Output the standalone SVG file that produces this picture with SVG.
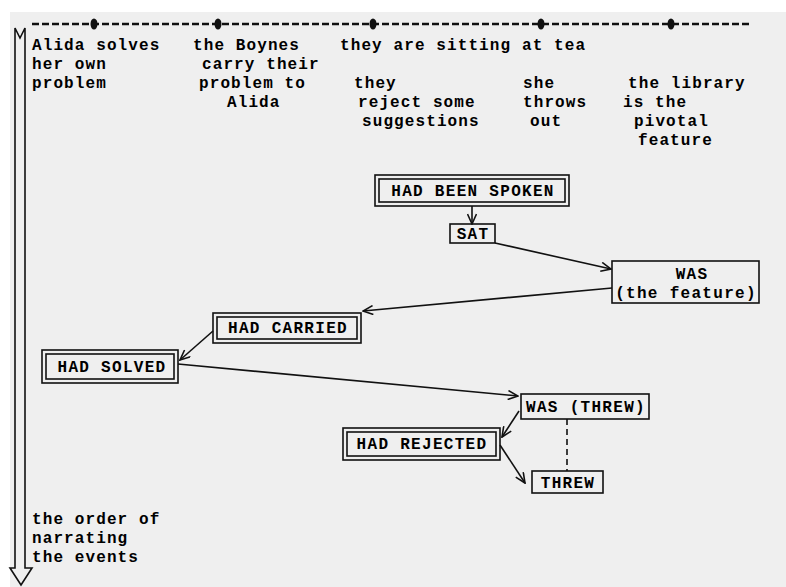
<svg xmlns="http://www.w3.org/2000/svg" width="786" height="587" viewBox="0 0 786 587">
<style>
  .t { font-family: "Liberation Mono", "DejaVu Sans Mono", monospace; font-weight: bold; font-size: 16px; letter-spacing: 1.1px; fill: #000; }
  .n { font-family: "Liberation Mono", "DejaVu Sans Mono", monospace; font-weight: bold; font-size: 16px; letter-spacing: 1.3px; fill: #000; text-anchor: middle; }
  .box { fill: none; stroke: #111; stroke-width: 1.6; }
  .ln { fill: none; stroke: #111; stroke-width: 1.6; }
</style>
<defs>
  <marker id="ah" viewBox="0 0 12 10" refX="11" refY="5" markerWidth="12" markerHeight="10" markerUnits="userSpaceOnUse" orient="auto">
    <path d="M1,0.5 L11,5 L1,9.5" fill="none" stroke="#111" stroke-width="1.6"/>
  </marker>
</defs>
<rect x="0" y="0" width="786" height="587" fill="#ffffff"/>
<rect x="10" y="12" width="776" height="575" fill="#efefef"/>

<g id="timeline">
  <line x1="32" y1="24" x2="751" y2="24" stroke="#111" stroke-width="2.4" stroke-dasharray="7,3"/>
  <ellipse cx="94" cy="24" rx="3.5" ry="5.5" fill="#111"/>
  <ellipse cx="218" cy="24" rx="3.5" ry="5.5" fill="#111"/>
  <ellipse cx="373" cy="24" rx="3.5" ry="5.5" fill="#111"/>
  <ellipse cx="541" cy="24" rx="3.5" ry="5.5" fill="#111"/>
  <ellipse cx="671" cy="24" rx="3.5" ry="5.5" fill="#111"/>
</g>

<g id="order-arrow">
  <path d="M15,568 L15,28 L20,38 L25,28 L25,568 L32,568 L21,585 L10,568 Z" fill="none" stroke="#111" stroke-width="1.6"/>
  <text class="t" x="32" y="524">the order of</text>
  <text class="t" x="32" y="543">narrating</text>
  <text class="t" x="32" y="562">the events</text>
</g>

<g id="events">
  <text class="t" x="32" y="50">Alida solves</text>
  <text class="t" x="32" y="69">her own</text>
  <text class="t" x="32" y="88">problem</text>

  <text class="t" x="193" y="50">the Boynes</text>
  <text class="t" x="202" y="69">carry their</text>
  <text class="t" x="199" y="88">problem to</text>
  <text class="t" x="227" y="107">Alida</text>

  <text class="t" x="340" y="50">they are sitting at tea</text>
  <text class="t" x="354" y="88">they</text>
  <text class="t" x="358" y="107">reject some</text>
  <text class="t" x="362" y="126">suggestions</text>

  <text class="t" x="523" y="88">she</text>
  <text class="t" x="523" y="107">throws</text>
  <text class="t" x="530" y="126">out</text>

  <text class="t" x="628" y="88">the library</text>
  <text class="t" x="623" y="107">is the</text>
  <text class="t" x="634" y="126">pivotal</text>
  <text class="t" x="638" y="145">feature</text>
</g>

<g id="connectors">
  <line class="ln" x1="472" y1="206" x2="472" y2="224" marker-end="url(#ah)"/>
  <line class="ln" x1="495" y1="243" x2="611" y2="269" marker-end="url(#ah)"/>
  <line class="ln" x1="612" y1="288" x2="363" y2="311" marker-end="url(#ah)"/>
  <line class="ln" x1="213" y1="331" x2="180" y2="360" marker-end="url(#ah)"/>
  <line class="ln" x1="178" y1="364" x2="518" y2="396" marker-end="url(#ah)"/>
  <line class="ln" x1="519" y1="411" x2="502" y2="437" marker-end="url(#ah)"/>
  <line class="ln" x1="500" y1="445" x2="525" y2="483" marker-end="url(#ah)"/>
  <line class="ln" x1="567" y1="419" x2="567" y2="471" stroke-dasharray="6,4"/>
</g>

<g id="had-been-spoken">
  <rect class="box" x="375" y="175" width="194" height="31"/>
  <rect class="box" x="379" y="179" width="186" height="23"/>
  <text class="n" x="473" y="196">HAD BEEN SPOKEN</text>
</g>

<g id="sat">
  <rect class="box" x="450" y="224" width="45" height="19"/>
  <text class="n" x="473" y="239">SAT</text>
</g>

<g id="was-feature">
  <rect class="box" x="612" y="261" width="147" height="42"/>
  <text class="n" x="692" y="279">WAS</text>
  <text class="n" x="686" y="298">(the feature)</text>
</g>

<g id="had-carried">
  <rect class="box" x="213" y="313" width="148" height="30"/>
  <rect class="box" x="217" y="317" width="140" height="22"/>
  <text class="n" x="288" y="333">HAD CARRIED</text>
</g>

<g id="had-solved">
  <rect class="box" x="42" y="350" width="136" height="33"/>
  <rect class="box" x="46" y="354" width="128" height="25"/>
  <text class="n" x="112" y="372">HAD SOLVED</text>
</g>

<g id="was-threw">
  <rect class="box" x="521" y="394" width="128" height="25"/>
  <text class="n" x="586" y="412">WAS (THREW)</text>
</g>

<g id="had-rejected">
  <rect class="box" x="343" y="428" width="157" height="32"/>
  <rect class="box" x="347" y="432" width="149" height="24"/>
  <text class="n" x="422" y="449">HAD REJECTED</text>
</g>

<g id="threw">
  <rect class="box" x="532" y="471" width="71" height="22"/>
  <text class="n" x="568" y="488">THREW</text>
</g>
</svg>
